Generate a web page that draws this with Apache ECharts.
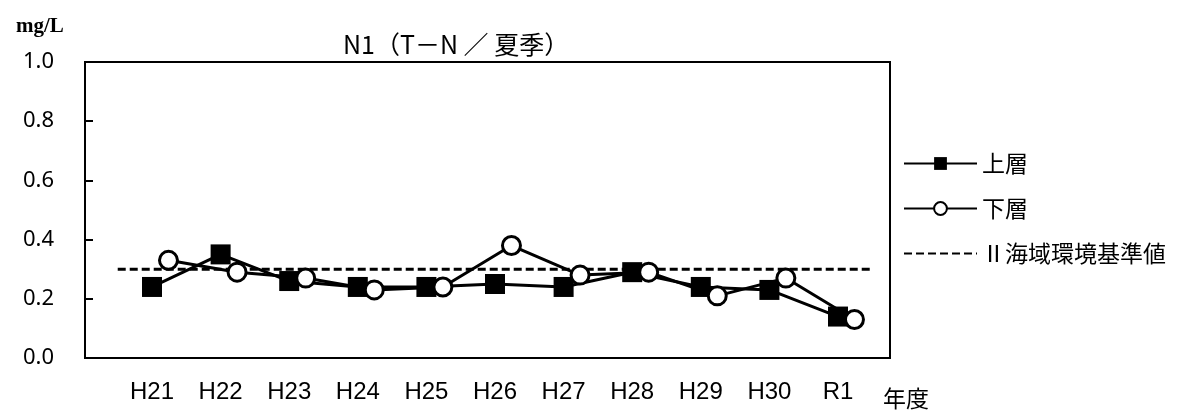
<!DOCTYPE html>
<html>
<head>
<meta charset="utf-8">
<script src="https://cdn.jsdelivr.net/npm/echarts@6/dist/echarts.min.js"></script>
<style>
html,body{margin:0;padding:0;background:#fff;}
#c{width:1191px;height:415px;}
</style>
</head>
<body>
<div id="c"></div>
<script>
const categories = ['H21','H22','H23','H24','H25','H26','H27','H28','H29','H30','R1'];
const upperLayer = [0.24,0.35,0.26,0.24,0.24,0.25,0.24,0.29,0.24,0.23,0.14];
const lowerLayer = [0.33,0.29,0.27,0.23,0.24,0.38,0.28,0.29,0.21,0.27,0.13];
const standardValue = 0.3;
const yTicks = [0.0,0.2,0.4,0.6,0.8,1.0];
const seriesNames = ['上層','下層','Ⅱ海域環境基準値'];
const titleText = 'N1（T－N ／ 夏季）';
const unitText = 'mg/L';
const xUnitText = '年度';

const lowerOffset = 0.24; // lower-layer markers sit slightly right of the category
const upperData = upperLayer.map((v,i)=>[i, v]);
const lowerData = lowerLayer.map((v,i)=>[i + lowerOffset, v]);
const stdData = [[-0.5, standardValue],[categories.length - 0.5, standardValue]];

const chart = echarts.init(document.getElementById('c'), null, {renderer:'canvas'});
const jp = '"Noto Sans CJK JP", "Noto Sans", sans-serif';
chart.setOption({
  animation:false,
  backgroundColor:'#fff',
  title:[
    {text:titleText, left:338, top:27, textStyle:{fontFamily:jp, fontSize:25, fontWeight:'normal', color:'#000'}},
    {text:unitText, left:11, top:11, textStyle:{fontFamily:'"Liberation Serif", "DejaVu Serif", serif', fontSize:21, fontWeight:'bold', color:'#000'}},
    {text:xUnitText, left:878, top:382, textStyle:{fontFamily:jp, fontSize:23, fontWeight:'normal', color:'#000'}}
  ],
  legend:{
    orient:'vertical', left:898, top:147,
    itemWidth:73, itemHeight:16, itemGap:22,
    data:[
      {name:seriesNames[0]},
      {name:seriesNames[1]},
      {name:seriesNames[2], itemStyle:{opacity:0}}
    ],
    textStyle:{fontFamily:jp, fontSize:23, color:'#000'}
  },
  grid:{left:85, right:301, top:62, bottom:57, show:true, borderColor:'#000', borderWidth:2, backgroundColor:'transparent'},
  xAxis:{
    type:'value', min:-0.977, max:10.758,
    axisLine:{show:true, onZero:false, lineStyle:{color:'#000', width:2}},
    axisTick:{show:false},
    splitLine:{show:false},
    axisLabel:{
      customValues:categories.map((c,i)=>i),
      formatter:(v)=>categories[Math.round(v)] ?? '',
      fontFamily:'"Liberation Sans Narrow", "Liberation Sans", sans-serif',
      fontSize:24, color:'#000', margin:22
    }
  },
  yAxis:{
    type:'value', min:0, max:1, interval:0.2,
    axisLine:{show:true, onZero:false, lineStyle:{color:'#000', width:2}},
    axisTick:{show:true, inside:true, length:8, lineStyle:{color:'#000', width:2}},
    splitLine:{show:false},
    axisLabel:{formatter:(v)=>v.toFixed(1), fontFamily:'"Noto Sans", sans-serif', fontSize:22, color:'#000', margin:31}
  },
  series:[
    {name:seriesNames[2], type:'line', data:stdData, symbol:'none', z:1,
     lineStyle:{color:'#000', width:3, type:[8,4]}, itemStyle:{color:'#000'}},
    {name:seriesNames[0], type:'line', data:upperData, symbol:'rect', symbolSize:20, z:2,
     lineStyle:{color:'#000', width:3}, itemStyle:{color:'#000'}},
    {name:seriesNames[1], type:'line', data:lowerData, symbol:'circle', symbolSize:18, z:3,
     lineStyle:{color:'#000', width:3}, itemStyle:{color:'#fff', borderColor:'#000', borderWidth:3}}
  ]
});
</script>
</body>
</html>
